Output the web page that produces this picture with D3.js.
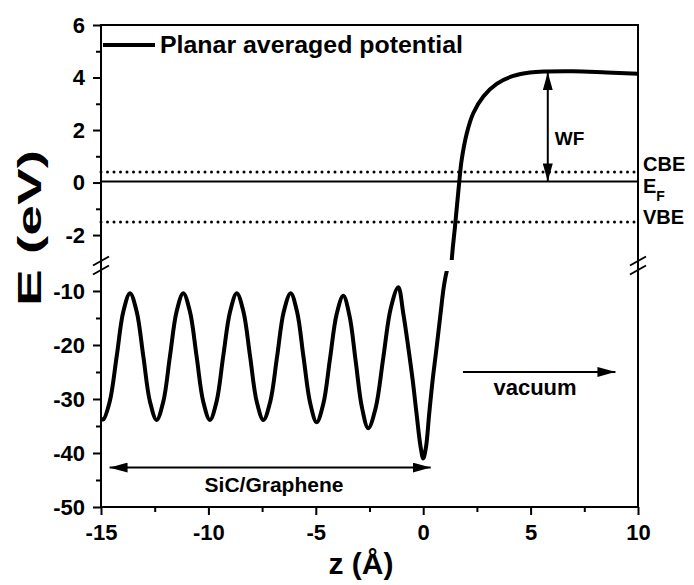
<!DOCTYPE html>
<html>
<head>
<meta charset="utf-8">
<title>Planar averaged potential</title>
<script src="https://cdn.jsdelivr.net/npm/d3@7/dist/d3.min.js"></script>
<style>
  body { margin: 0; background: #fff; }
  text { font-family: "Liberation Sans", Arial, sans-serif; font-weight: bold; fill: #000; }
</style>
</head>
<body>
<svg id="chart" width="694" height="585"></svg>
<script>
// z (Angstrom) and planar averaged potential E (eV)
const zVals = [-15.00, -14.90, -14.59, -14.27, -13.96, -13.65, -13.34, -13.03, -12.72, -12.41,
  -12.10, -11.79, -11.48, -11.17, -10.86, -10.55, -10.24, -9.93, -9.62, -9.31,
  -8.99, -8.68, -8.37, -8.06, -7.75, -7.44, -7.12, -6.80, -6.49, -6.17,
  -5.87, -5.57, -5.26, -4.96, -4.65, -4.34, -4.03, -3.72, -3.43, -3.14,
  -2.85, -2.56, -2.21, -1.86, -1.51, -1.16, -0.93, -0.70, -0.49, -0.31,
  -0.12, 0.00, 0.13, 0.28, 0.44, 0.63, 0.81, 1.01, 1.33, 1.48,
  1.68, 1.79, 2.03, 2.33, 2.80, 3.42, 4.20, 4.97, 5.75, 6.99,
  8.54, 10.00];
const eVals = [-33.6, -33.8, -30.4, -22.1, -13.8, -10.4, -13.8, -22.1, -30.5, -33.9,
  -30.5, -22.1, -13.8, -10.4, -13.8, -22.1, -30.5, -33.9, -30.5, -22.1,
  -13.8, -10.4, -13.8, -22.1, -30.5, -33.9, -30.5, -22.1, -13.8, -10.4,
  -13.9, -22.3, -30.8, -34.3, -30.9, -22.6, -14.3, -10.9, -14.6, -23.1,
  -31.6, -35.4, -31.6, -22.4, -13.2, -9.3, -14.1, -20.3, -26.5, -32.7,
  -38.9, -41.0, -38.9, -32.7, -26.5, -20.3, -14.1, -8.0, -2.94, -1.68,
  0.04, 0.86, 1.88, 2.64, 3.28, 3.76, 4.06, 4.19, 4.23, 4.24,
  4.19, 4.14];

const levels = [
  { name: "CBE", e: 0.40, dotted: true },
  { name: "EF", e: 0.04, dotted: false },
  { name: "VBE", e: -1.50, dotted: true }
];
const xTicks = [-15, -10, -5, 0, 5, 10];
const xMinor = [-12.5, -7.5, -2.5, 2.5, 7.5];
const yTopTicks = [-2, 0, 2, 4, 6];
const yTopMinor = [-1, 1, 3, 5];
const yBotTicks = [-50, -40, -30, -20, -10];
const yBotMinor = [-45, -35, -25, -15];

const data = zVals.map((z, i) => ({ z: z, e: eVals[i] }));

const svg = d3.select("#chart");
const pLeft = 101, pRight = 638, pTop = 25, pBottom = 507;
const topEnd = 260, botStart = 271;

const x = d3.scaleLinear().domain([-15, 10]).range([pLeft, pRight]);
const yTop = d3.scaleLinear().domain([-2.95, 6]).range([topEnd, pTop]);
const yBot = d3.scaleLinear().domain([-50, -6.3]).range([pBottom, botStart]);

const defs = svg.append("defs");
defs.append("clipPath").attr("id", "clipTop").append("rect")
  .attr("x", pLeft).attr("y", pTop).attr("width", pRight - pLeft).attr("height", topEnd - pTop);
defs.append("clipPath").attr("id", "clipBot").append("rect")
  .attr("x", pLeft).attr("y", botStart).attr("width", pRight - pLeft).attr("height", pBottom - botStart);
defs.append("marker").attr("id", "head")
  .attr("viewBox", "0 0 18 10").attr("refX", 18).attr("refY", 5)
  .attr("markerWidth", 18).attr("markerHeight", 10)
  .attr("markerUnits", "userSpaceOnUse").attr("orient", "auto-start-reverse")
  .append("path").attr("d", "M0,0 L18,5 L0,10 Z").attr("fill", "#000");

// energy levels
levels.forEach(l => {
  svg.append("line")
    .attr("x1", pLeft).attr("x2", pRight)
    .attr("y1", yTop(l.e)).attr("y2", yTop(l.e))
    .attr("stroke", "#000")
    .attr("stroke-width", l.dotted ? 3 : 2)
    .attr("stroke-linecap", l.dotted ? "round" : "butt")
    .attr("stroke-dasharray", l.dotted ? "0 6.5" : null);
});

// the curve, once per axis segment
[[yTop, "clipTop"], [yBot, "clipBot"]].forEach(([ys, clip]) => {
  svg.append("path")
    .datum(data)
    .attr("clip-path", `url(#${clip})`)
    .attr("fill", "none")
    .attr("stroke", "#000")
    .attr("stroke-width", 4)
    .attr("stroke-linejoin", "round")
    .attr("d", d3.line().x(d => x(d.z)).y(d => ys(d.e)).curve(d3.curveCatmullRom));
});

// axes
const fmt = d => String(d);
function styleAxis(g) {
  g.select(".domain").remove();
  g.selectAll("line").attr("stroke", "#000").attr("stroke-width", 2);
  g.selectAll("text").style("font-size", "22px").attr("fill", "#000");
}
svg.append("g").attr("transform", `translate(0,${pBottom})`)
  .call(d3.axisBottom(x).tickValues(xTicks).tickSize(8).tickPadding(9).tickFormat(fmt))
  .call(styleAxis);
svg.append("g").attr("transform", `translate(0,${pBottom})`)
  .call(d3.axisBottom(x).tickValues(xMinor).tickSize(5).tickFormat(""))
  .call(styleAxis);
[[yTop, yTopTicks, yTopMinor], [yBot, yBotTicks, yBotMinor]].forEach(([ys, maj, mnr]) => {
  svg.append("g").attr("transform", `translate(${pLeft},0)`)
    .call(d3.axisLeft(ys).tickValues(maj).tickSize(8).tickPadding(8).tickFormat(fmt))
    .call(styleAxis);
  svg.append("g").attr("transform", `translate(${pLeft},0)`)
    .call(d3.axisLeft(ys).tickValues(mnr).tickSize(5).tickFormat(""))
    .call(styleAxis);
});

// frame
svg.append("rect").attr("x", pLeft).attr("y", pTop)
  .attr("width", pRight - pLeft).attr("height", pBottom - pTop)
  .attr("fill", "none").attr("stroke", "#000").attr("stroke-width", 2);

// axis breaks
[pLeft, pRight].forEach(px => {
  [261, 270].forEach(py => {
    svg.append("line")
      .attr("x1", px - 8).attr("y1", py + 4.5).attr("x2", px + 8).attr("y2", py - 4.5)
      .attr("stroke", "#000").attr("stroke-width", 2);
  });
});

// axis titles
svg.append("text")
  .attr("transform", "translate(41,228) rotate(-90)")
  .attr("text-anchor", "middle")
  .attr("textLength", 156).attr("lengthAdjust", "spacingAndGlyphs")
  .style("font-size", "34px")
  .text("E (eV)");
svg.append("text")
  .attr("x", 361).attr("y", 574)
  .attr("text-anchor", "middle")
  .style("font-size", "30px")
  .text("z (Å)");

// legend
svg.append("line").attr("x1", 103).attr("x2", 155).attr("y1", 45).attr("y2", 45)
  .attr("stroke", "#000").attr("stroke-width", 4);
svg.append("text").attr("x", 160).attr("y", 53)
  .attr("textLength", 303).attr("lengthAdjust", "spacingAndGlyphs")
  .style("font-size", "23px")
  .text("Planar averaged potential");

// level labels
svg.append("text").attr("x", 643).attr("y", 171).style("font-size", "20px").text("CBE");
const ef = svg.append("text").attr("x", 643).attr("y", 193).style("font-size", "20px");
ef.append("tspan").text("E");
ef.append("tspan").attr("dy", 8).style("font-size", "14px").text("F");
svg.append("text").attr("x", 643).attr("y", 224).style("font-size", "20px").text("VBE");

// work function arrow
const wfZ = 5.8;
svg.append("line")
  .attr("x1", x(wfZ)).attr("x2", x(wfZ))
  .attr("y1", yTop(0.04)).attr("y2", yTop(4.2))
  .attr("stroke", "#000").attr("stroke-width", 2)
  .attr("marker-start", "url(#head)").attr("marker-end", "url(#head)");
svg.append("text").attr("x", x(wfZ) + 7).attr("y", 145).style("font-size", "19px").text("WF");

// region arrows
svg.append("line")
  .attr("x1", x(-14.6)).attr("x2", x(0.35))
  .attr("y1", yBot(-42.7)).attr("y2", yBot(-42.7))
  .attr("stroke", "#000").attr("stroke-width", 2)
  .attr("marker-start", "url(#head)").attr("marker-end", "url(#head)");
svg.append("text").attr("x", 274).attr("y", 492)
  .attr("text-anchor", "middle").style("font-size", "21px").text("SiC/Graphene");

svg.append("line")
  .attr("x1", x(1.85)).attr("x2", x(8.95))
  .attr("y1", yBot(-25)).attr("y2", yBot(-25))
  .attr("stroke", "#000").attr("stroke-width", 2)
  .attr("marker-end", "url(#head)");
svg.append("text").attr("x", 535).attr("y", 395)
  .attr("text-anchor", "middle").style("font-size", "22px").text("vacuum");
</script>
</body>
</html>
